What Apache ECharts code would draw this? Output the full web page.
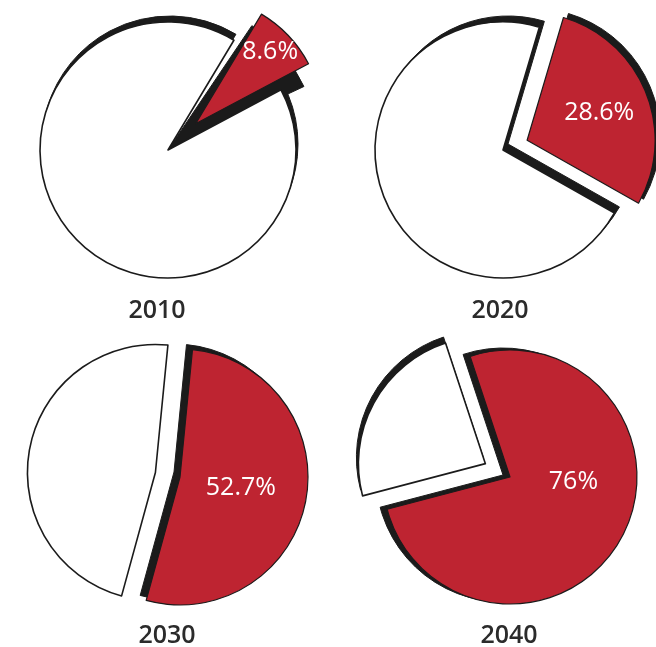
<!DOCTYPE html>
<html>
<head>
<meta charset="utf-8">
<style>
  html, body { margin: 0; padding: 0; background: #ffffff; }
  #chart { width: 656px; height: 647px; }
</style>
<script src="https://cdn.jsdelivr.net/npm/echarts@6/dist/echarts.min.js"></script>
</head>
<body>
<div id="chart"></div>
<script>
// Highlighted share per year (percent) and the remaining share
const years = ['2010', '2020', '2030', '2040'];
const highlightShare = [8.6, 28.6, 52.7, 76];
const remainderShare = [91.4, 71.4, 47.3, 24];

const RED = '#be2431';
const INK = '#1b1b1b';

// Placement of each pie, its pulled-out slice and the dark offset copies behind it
const layout = [
  { center: [168, 150], radius: 128, startAngle: 59, explode: 38, labelShift: [26, -26], year: [157, 298],
    shadows: [ { slice: 1, dx: 2, dy: -6 }, { slice: 0, dx: 0, dy: 0, turn: -3, radius: 150, explode: 0 } ] },
  { center: [503, 150], radius: 128, startAngle: 73.5, explode: 26, labelShift: [10, -2], year: [500, 298],
    shadows: [ { slice: 1, dx: 5, dy: -6 }, { slice: 0, dx: 5, dy: -4 } ] },
  { center: [180, 477], radius: 128, startAngle: 84.4, explode: 25, labelShift: [-5, -1], year: [167, 623],
    shadows: [ { slice: 0, dx: -6, dy: -5 } ] },
  { center: [510, 477], radius: 127, startAngle: 108.3, explode: 28, labelShift: [5, -27], year: [509, 623],
    shadows: [ { slice: 0, dx: -7, dy: -2 }, { slice: 1, dx: -2, dy: -6 } ] }
];

// The smaller of the two slices is pulled out of the pie
function pulledIndex(i) {
  return highlightShare[i] < remainderShare[i] ? 0 : 1;
}

function shadowSeries(i, s) {
  const l = layout[i];
  const pulled = pulledIndex(i);
  const values = [highlightShare[i], remainderShare[i]];
  return {
    type: 'pie',
    z: 1,
    silent: true,
    animation: false,
    center: [l.center[0] + s.dx, l.center[1] + s.dy],
    radius: s.radius != null ? s.radius : l.radius,
    startAngle: l.startAngle + (s.turn || 0),
    clockwise: true,
    selectedMode: 'single',
    selectedOffset: s.explode != null ? s.explode : l.explode,
    avoidLabelOverlap: false,
    label: { show: false },
    labelLine: { show: false },
    emphasis: { disabled: true },
    data: values.map((v, k) => ({
      value: v,
      selected: k === pulled,
      itemStyle: k === s.slice
        ? { color: INK, borderColor: INK, borderWidth: 1 }
        : { color: 'rgba(0,0,0,0)', borderWidth: 0 }
    }))
  };
}

function mainSeries(i) {
  const l = layout[i];
  const pulled = pulledIndex(i);
  return {
    type: 'pie',
    z: 3,
    silent: true,
    animation: false,
    center: l.center,
    radius: l.radius,
    startAngle: l.startAngle,
    clockwise: true,
    selectedMode: 'single',
    selectedOffset: l.explode,
    avoidLabelOverlap: false,
    labelLine: { show: false },
    emphasis: { disabled: true },
    labelLayout: () => ({ dx: l.labelShift[0], dy: l.labelShift[1] }),
    data: [
      {
        name: years[i],
        value: highlightShare[i],
        selected: pulled === 0,
        itemStyle: { color: RED, borderColor: INK, borderWidth: 1.2 },
        label: {
          show: true, position: 'inside', formatter: '{c}%',
          color: '#ffffff', fontSize: 25, fontFamily: 'Open Sans', fontWeight: 'normal'
        }
      },
      {
        name: 'rest',
        value: remainderShare[i],
        selected: pulled === 1,
        itemStyle: { color: '#ffffff', borderColor: INK, borderWidth: 1.6 },
        label: { show: false }
      }
    ]
  };
}

const series = [];
years.forEach((y, i) => {
  layout[i].shadows.forEach(s => series.push(shadowSeries(i, s)));
  series.push(mainSeries(i));
});

const chart = echarts.init(document.getElementById('chart'), null, { renderer: 'canvas' });
chart.setOption({
  backgroundColor: '#ffffff',
  animation: false,
  title: years.map((y, i) => ({
    text: y,
    left: layout[i].year[0],
    top: layout[i].year[1],
    textAlign: 'center',
    padding: 0,
    textStyle: { fontSize: 25, fontWeight: 600, color: '#2b2b2b', fontFamily: 'Open Sans' }
  })),
  series: series
});
</script>
</body>
</html>
